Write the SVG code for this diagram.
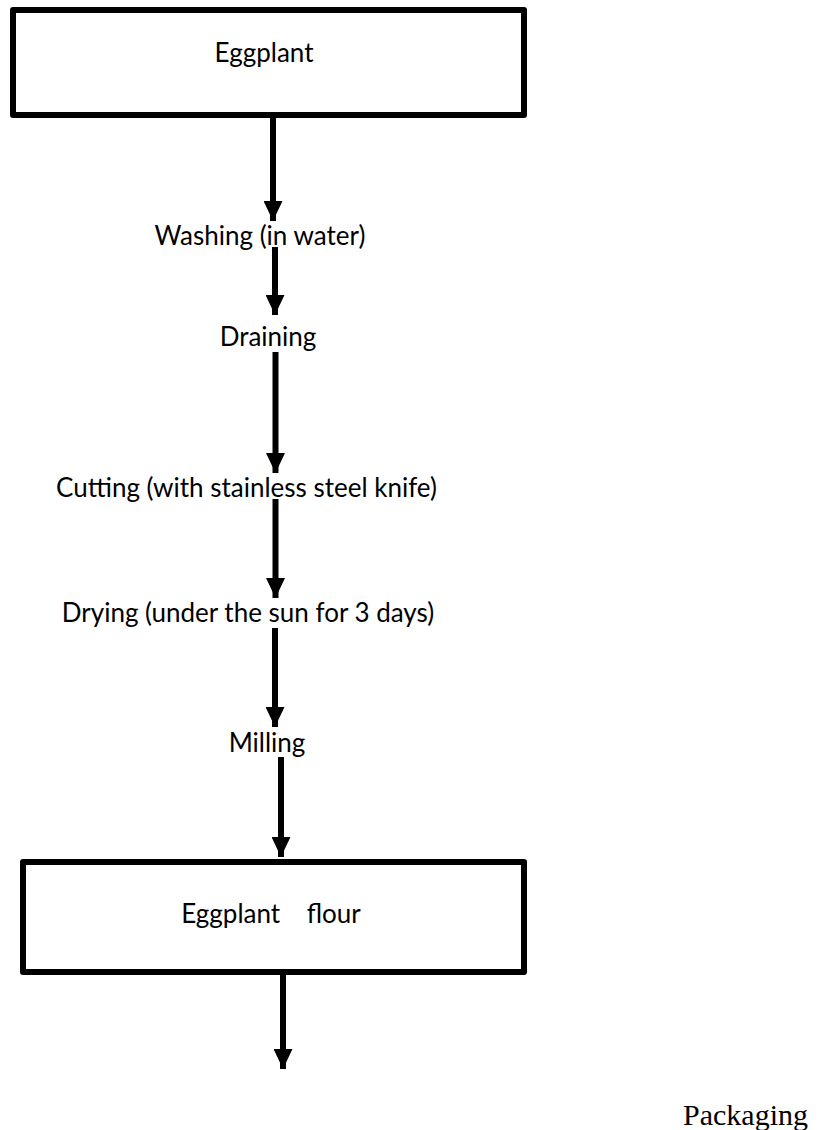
<svg xmlns="http://www.w3.org/2000/svg" width="819" height="1130" viewBox="0 0 819 1130">
<defs>
<style>
.box{fill:#fff;stroke:#000;stroke-width:6;stroke-linejoin:round}
.lbl{font-family:Lato,"Open Sans","Liberation Sans",sans-serif;font-size:26px;fill:#000;text-anchor:middle}
.serif{font-family:"Liberation Serif","Times New Roman",serif;font-size:30px;fill:#000}
.conn{stroke:#000;stroke-width:6;fill:none}
</style>
<marker id="ah" viewBox="0 0 20 19" refX="20" refY="9.5" markerWidth="20" markerHeight="19" markerUnits="userSpaceOnUse" orient="auto">
<path d="M0,0 L20,9.5 L0,19 Z" fill="#000"/>
</marker>
</defs>
<rect width="819" height="1130" fill="#fff"/>
<g id="connectors">
<line class="conn" x1="273" y1="118" x2="273" y2="221" marker-end="url(#ah)"/>
<line class="conn" x1="275" y1="247" x2="275" y2="315" marker-end="url(#ah)"/>
<line class="conn" x1="275.5" y1="352" x2="275.5" y2="473" marker-end="url(#ah)"/>
<line class="conn" x1="275.5" y1="499" x2="275.5" y2="598" marker-end="url(#ah)"/>
<line class="conn" x1="275" y1="628" x2="275" y2="727" marker-end="url(#ah)"/>
<line class="conn" x1="281" y1="757" x2="281" y2="857" marker-end="url(#ah)"/>
<line class="conn" x1="283" y1="975" x2="283" y2="1069" marker-end="url(#ah)"/>
</g>
<g id="eggplant">
<rect class="box" x="13" y="10" width="511" height="105"/>
<text class="lbl" x="264" y="62">Eggplant</text>
</g>
<g id="washing"><text class="lbl" x="260" y="245">Washing (in water)</text></g>
<g id="draining"><text class="lbl" x="268" y="346">Draining</text></g>
<g id="cutting"><text class="lbl" x="246.5" y="497">Cutting (with stainless steel knife)</text></g>
<g id="drying"><text class="lbl" x="248" y="622">Drying (under the sun for 3 days)</text></g>
<g id="milling"><text class="lbl" x="267" y="752">Milling</text></g>
<g id="eggplant-flour">
<rect class="box" x="23" y="862" width="501" height="110"/>
<text class="lbl" x="271" y="923" xml:space="preserve">Eggplant    flour</text>
</g>
<g id="packaging"><text class="serif" x="683" y="1125">Packaging</text></g>
</svg>
